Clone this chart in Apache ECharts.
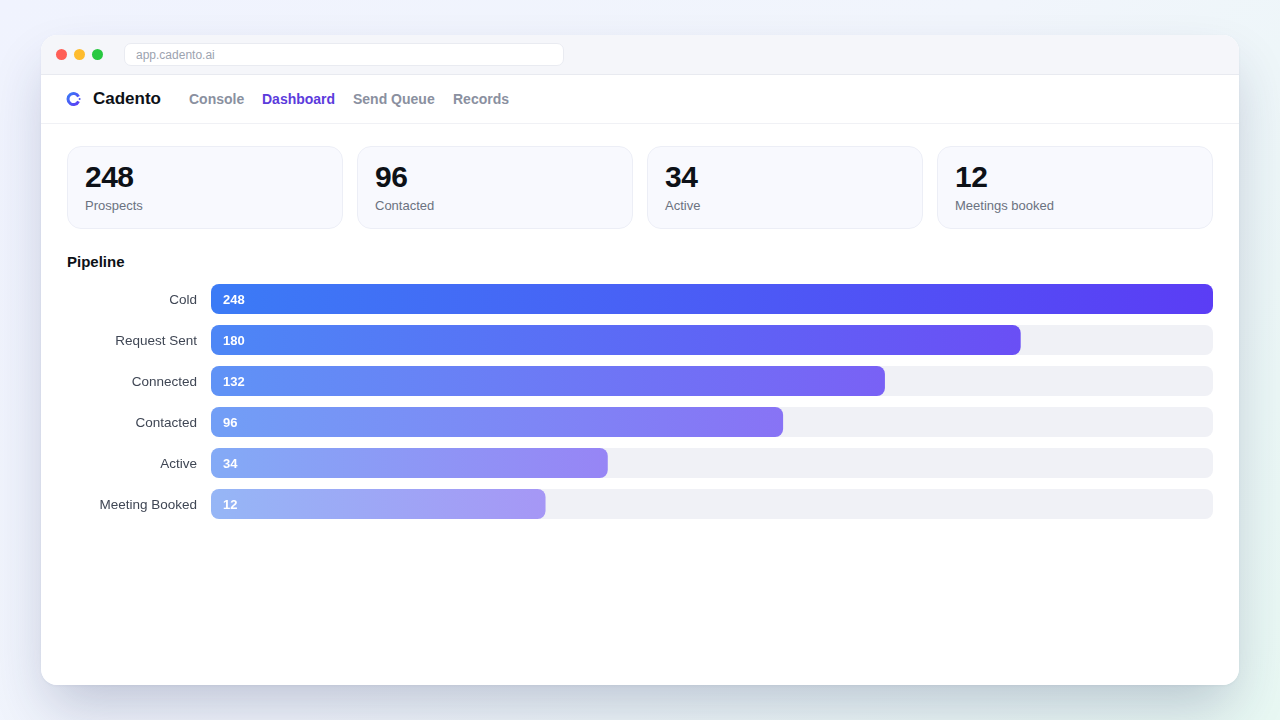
<!DOCTYPE html>
<html>
<head>
<meta charset="utf-8">
<script src="https://cdn.jsdelivr.net/npm/echarts@6/dist/echarts.min.js"></script>
<style>
  html, body { margin: 0; height: 100%; }
  body {
    width: 1280px; height: 720px; overflow: hidden; position: relative;
    font-family: "Liberation Sans", sans-serif;
    background: linear-gradient(135deg, #f0f3fe 0%, #f1f5fc 50%, #e8f8f3 100%);
  }
  .window {
    position: absolute; left: 41px; top: 35px; width: 1198px; height: 650px;
    background: #fff; border-radius: 16px; overflow: hidden;
  }
  .shadow {
    position: absolute; left: 41px; top: 35px; width: 1198px; height: 650px;
    border-radius: 16px; box-shadow: 0 28px 56px -8px rgba(30, 40, 90, .24), 0 1px 3px rgba(30, 40, 80, .05);
  }
  .titlebar { position: absolute; left: 0; top: 0; right: 0; height: 39px; background: #f5f6fa; border-bottom: 1px solid #e8eaf0; }
  .dot { position: absolute; top: 14px; width: 11px; height: 11px; border-radius: 50%; }
  .url {
    position: absolute; left: 83px; top: 8px; width: 438px; height: 21px; line-height: 22px;
    background: #fff; border: 1px solid #e9ebf1; border-radius: 7px;
    font-size: 12px; color: #9ca3af; text-indent: 11px;
  }
  .nav { position: absolute; left: 0; top: 40px; right: 0; height: 48px; border-bottom: 1px solid #f0f1f5; }
  .nav svg { position: absolute; left: 25px; top: 16px; }
  .brand { position: absolute; left: 52px; top: 13px; font-size: 17px; font-weight: 700; color: #0d1117; line-height: 22px; }
  .link { position: absolute; top: 15px; font-size: 14px; font-weight: 700; color: #8a90a0; line-height: 18px; }
  .link.on { color: #5b3bdc; }
  .card {
    position: absolute; top: 111px; width: 274px; height: 81px;
    background: #f8f9fe; border: 1px solid #eceef6; border-radius: 14px;
  }
  .num { position: absolute; left: 17px; top: 13px; font-size: 30px; font-weight: 700; letter-spacing: -.5px; color: #0d1117; line-height: 34px; }
  .lab { position: absolute; left: 17px; top: 50px; font-size: 13px; color: #6b7280; line-height: 18px; }
  .head { position: absolute; left: 26px; top: 218px; font-size: 15px; font-weight: 700; color: #0d1117; line-height: 18px; }
  #chart { position: absolute; left: 67px; top: 270px; width: 1146px; height: 264px; }
</style>
</head>
<body>
<div class="shadow"></div>
<div class="window">
  <div class="titlebar">
    <span class="dot" style="left:15px;background:#ff5f57"></span>
    <span class="dot" style="left:33px;background:#febc2e"></span>
    <span class="dot" style="left:51px;background:#28c840"></span>
    <div class="url">app.cadento.ai</div>
  </div>
  <div class="nav">
    <svg width="16" height="16" viewBox="0 0 16 16">
      <defs><linearGradient id="lg" x1="0" y1="0" x2="1" y2="1"><stop offset="0" stop-color="#3b7bf6"/><stop offset="1" stop-color="#5b3df5"/></linearGradient></defs>
      <path d="M12.5 5.7 A5.5 5.5 0 1 0 12.5 10.3" fill="none" stroke="url(#lg)" stroke-width="3"/>
      <circle cx="13.6" cy="8" r="1" fill="#4f55f0"/>
    </svg>
    <div class="brand">Cadento</div>
    <div class="link" style="left:148px">Console</div>
    <div class="link on" style="left:221px">Dashboard</div>
    <div class="link" style="left:312px">Send Queue</div>
    <div class="link" style="left:412px">Records</div>
  </div>
  <div class="card" style="left:26px"><div class="num">248</div><div class="lab">Prospects</div></div>
  <div class="card" style="left:316px"><div class="num">96</div><div class="lab">Contacted</div></div>
  <div class="card" style="left:606px"><div class="num">34</div><div class="lab">Active</div></div>
  <div class="card" style="left:896px"><div class="num">12</div><div class="lab">Meetings booked</div></div>
  <div class="head">Pipeline</div>
</div>
<div id="chart"></div>
<script>
const stages = ['Cold', 'Request Sent', 'Connected', 'Contacted', 'Active', 'Meeting Booked'];
const counts = [248, 180, 132, 96, 34, 12];
// bars in the original start at 30% of the track, so the axis begins below zero
const axisMin = -106.2857;
const axisMax = 248;

const chart = echarts.init(document.getElementById('chart'));

function renderBar(params, api) {
  const idx = api.value(0);
  const val = api.value(1);
  const left = api.coord([axisMin, idx]);
  const right = api.coord([axisMax, idx]);
  const end = api.coord([val, idx]);
  const h = 30;
  const y = left[1] - h / 2;
  return {
    type: 'group',
    children: [
      {
        type: 'rect',
        shape: { x: left[0], y: y, width: right[0] - left[0], height: h, r: 8 },
        style: { fill: '#f0f1f6' }
      },
      {
        type: 'rect',
        shape: { x: left[0], y: y, width: end[0] - left[0], height: h, r: 8 },
        style: {
          opacity: 1 - idx * 0.1,
          fill: new echarts.graphic.LinearGradient(0, 0, 1, 0, [
            { offset: 0, color: '#3b7bf6' },
            { offset: 1, color: '#5b3df5' }
          ])
        }
      },
      {
        type: 'text',
        style: {
          x: left[0] + 12,
          y: left[1] + 1,
          text: String(val),
          fill: '#fff',
          font: 'bold 13px "Liberation Sans", sans-serif',
          verticalAlign: 'middle'
        }
      }
    ]
  };
}

chart.setOption({
  animation: false,
  grid: { left: 144, right: 0, top: 8.5, height: 246 },
  xAxis: { type: 'value', min: axisMin, max: axisMax, show: false },
  yAxis: {
    type: 'category',
    inverse: true,
    data: stages,
    axisLine: { show: false },
    axisTick: { show: false },
    axisLabel: {
      margin: 14,
      formatter: '{a|{value}}',
      rich: {
        a: { padding: [3, 0, 0, 0], color: '#3f4654', fontSize: 13.5, fontFamily: '"Liberation Sans", sans-serif' }
      }
    }
  },
  series: [{
    type: 'custom',
    clip: false,
    renderItem: renderBar,
    encode: { x: 1, y: 0 },
    data: counts.map((c, i) => [i, c])
  }]
});
</script>
</body>
</html>
